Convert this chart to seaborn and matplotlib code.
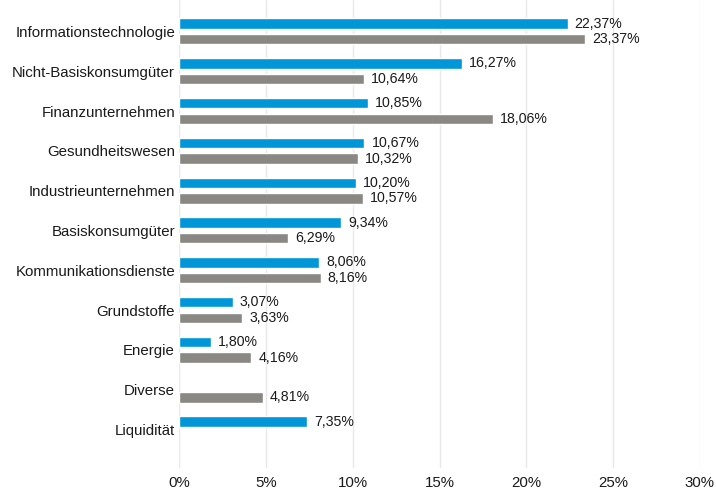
import numpy as np
import pandas as pd
import matplotlib
matplotlib.use("Agg")
import matplotlib.pyplot as plt
import seaborn as sns

# Sector weights (in %): blue = fund, grey = benchmark
categories = [
    "Informationstechnologie", "Nicht-Basiskonsumgüter", "Finanzunternehmen",
    "Gesundheitswesen", "Industrieunternehmen", "Basiskonsumgüter",
    "Kommunikationsdienste", "Grundstoffe", "Energie", "Diverse", "Liquidität",
]
fonds = [22.37, 16.27, 10.85, 10.67, 10.20, 9.34, 8.06, 3.07, 1.80, np.nan, 7.35]
index = [23.37, 10.64, 18.06, 10.32, 10.57, 6.29, 8.16, 3.63, 4.16, 4.81, np.nan]
series = ["Fonds", "Index"]
colors = ["#0096D8", "#8A8883"]
xticks = [0, 5, 10, 15, 20, 25, 30]

df = pd.DataFrame({
    "Sektor": categories * 2,
    "Anteil": fonds + index,
    "Serie": [series[0]] * len(categories) + [series[1]] * len(categories),
})

sns.set_theme(style="white")
plt.rcParams["font.family"] = ["Liberation Sans", "DejaVu Sans"]

fig = plt.figure(figsize=(7.16, 4.92), dpi=100)
ax = fig.add_axes([0.2504, 0.0488, 0.7272, 0.9512])

sns.barplot(data=df, y="Sektor", x="Anteil", hue="Serie", order=categories,
            hue_order=series, palette=colors, orient="h", width=0.79, gap=0.34,
            dodge=True, legend=False, ax=ax, saturation=1)

def fmt(v):
    if np.isnan(v):
        return ""
    return f"{v:.2f}".replace(".", ",") + "%"

for c in ax.containers:
    ax.bar_label(c, labels=[fmt(v) for v in c.datavalues], padding=5,
                 fontsize=10.2, color="#1a1a1a")

ax.set_xlim(0, 30)
ax.set_ylim(10.97, -0.79)
ax.set_xticks(xticks)
ax.set_xticklabels([f"{t}%" for t in xticks])
ax.set_xlabel("")
ax.set_ylabel("")
ax.tick_params(axis="x", length=0, pad=6, labelsize=10.8, labelcolor="#1a1a1a")
ax.tick_params(axis="y", length=0, pad=3, labelsize=10.8, labelcolor="#1a1a1a")
ax.grid(axis="x", color="#E9E9E9", linewidth=1)
ax.set_axisbelow(True)
for s in ax.spines.values():
    s.set_visible(False)

fig.savefig("out.png", dpi=100)
